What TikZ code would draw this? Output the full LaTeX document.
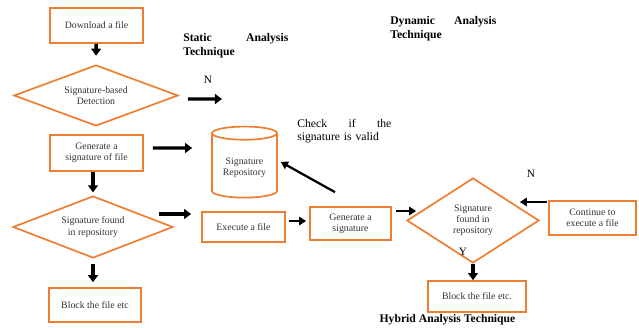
\documentclass[tikz,border=0pt]{standalone}
\usepackage{fontspec}
\setmainfont{Liberation Serif}
\usepackage{xcolor}
\usepackage{tikz}
\usetikzlibrary{arrows.meta,shapes.geometric}

\definecolor{boxorange}{RGB}{237,125,49}
\newcommand{\spread}{\hskip 0pt plus 1filll\relax}

\begin{document}
\begin{tikzpicture}[x=0.025cm,y=-0.025cm,
  font=\fontsize{7}{8}\selectfont,
  box/.style={draw=boxorange,line width=1.2pt,inner sep=2pt,align=center,text=black!80},
  dec/.style={diamond,draw=boxorange,line width=1.2pt,inner sep=1pt,align=center,text=black!80},
  repo/.style={cylinder,shape border rotate=90,aspect=0.25,draw=boxorange,line width=1.2pt,
    align=center,text=black!80},
  arr/.style={-{Triangle[length=5pt,width=7pt]},line width=2.4pt},
  thinarr/.style={-{Triangle[length=5pt,width=6pt]},line width=1.6pt},
  head/.style={font=\fontsize{8.3}{10}\selectfont\bfseries,inner sep=0pt,anchor=north west,align=left},
  lbl/.style={font=\fontsize{8}{9}\selectfont,inner sep=0pt}]
  \useasboundingbox (0,0) rectangle (639,328);
  % static analysis column
  \node[box,minimum width=2.325cm,minimum height=0.875cm] (dl) at (96.5,25.5) {Download a file};
  \node[dec,aspect=2.69,minimum width=4.1cm,minimum height=1.525cm] (sbd) at (96,95.5) {Signature-based\\Detection};
  \node[box,minimum width=2.325cm,minimum height=0.9cm] (gsf) at (96.5,153) {Generate a\\signature of file};
  \node[dec,aspect=2.58,minimum width=4.0cm,minimum height=1.55cm] (sfr) at (93,227) {Signature found\\in repository};
  \node[box,minimum width=2.3cm,minimum height=0.85cm] (blk) at (95,305) {Block the file etc};
  % repository and dynamic part
  \node[repo,minimum width=1.625cm,minimum height=1.775cm] (rep) at (244.5,167.5) {Signature\\Repository};
  \node[box,minimum width=2.075cm,minimum height=0.75cm] (exe) at (243.5,227) {Execute a file};
  \node[box,minimum width=2.025cm,minimum height=0.825cm] (gs) at (350.5,223.5) {Generate a\\signature};
  % hybrid part
  \node[dec,aspect=1.55,minimum width=3.3cm,minimum height=2.125cm] (sfr2) at (473,220.5) {Signature\\found in\\repository};
  \node[box,minimum width=2.45cm,minimum height=0.775cm] (blk2) at (477,296.5) {Block the file etc.};
  \node[box,minimum width=2.175cm,minimum height=0.85cm] (cont) at (592.5,218) {Continue to\\execute a file};
  \coordinate (nend) at (222,99);
  % headings and notes
  \node[head,text width=2.625cm] (sat) at (183,33) {Static\spread Analysis\\Technique};
  \node[head,text width=2.65cm] (dat) at (390,16) {Dynamic\spread Analysis\\Technique};
  \node[head,anchor=center] (hat) at (447.5,320) {Hybrid Analysis Technique};
  \node[inner sep=0pt,anchor=north west,align=left,text width=2.35cm,
    font=\fontsize{8.3}{9.5}\selectfont] (chk) at (297,119) {Check\spread if\spread the\\signature is valid};
  \node[lbl] (n1) at (208,80) {N};
  \node[lbl] (n2) at (531,174) {N};
  \node[lbl] (y2) at (463,252) {Y};
  % arrows
  \draw[arr] (dl) -- ([yshift=6pt]sbd.north);
  \draw[arr] ([shift={(9,3.5)}]sbd.east) -- (nend);
  \draw[arr] ([shift={(9,-5)}]gsf.east) -- ([shift={(-19,-19.5)}]rep.west);
  \draw[arr] (sfr.north |- gsf.south) -- ([yshift=2pt]sfr.north);
  \draw[arr] ([yshift=-4pt]sfr.south) -- ([yshift=3.5pt]sfr.south |- blk.north);
  \draw[arr] ([shift={(-15,-13)}]sfr.east) -- ([shift={(-10,-13)}]exe.west);
  \draw[thinarr] ([shift={(3,-6)}]exe.east) -- ([shift={(-3,-2.5)}]gs.west);
  \draw[thinarr] ([shift={(-15.5,-14)}]gs.north) -- ([shift={(3,-5.5)}]rep.east);
  \draw[thinarr] ([shift={(4,-12.5)}]gs.east) -- ([shift={(10,-9.5)}]sfr2.west);
  \draw[thinarr] ([shift={(-1,-16)}]cont.west) -- ([shift={(-20,-18.5)}]sfr2.east);
  \draw[arr] (sfr2.south) -- (sfr2.south |- blk2.north);
\end{tikzpicture}
\end{document}
